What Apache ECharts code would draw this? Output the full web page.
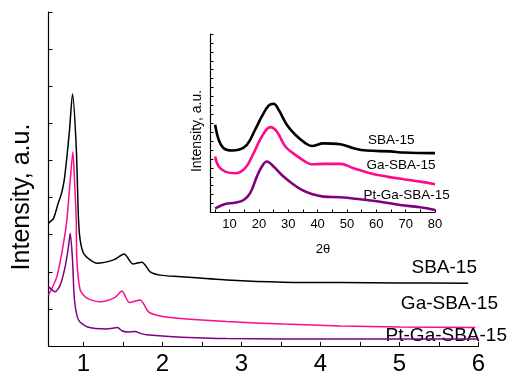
<!DOCTYPE html>
<html><head><meta charset="utf-8">
<script src="https://cdn.jsdelivr.net/npm/echarts@6/dist/echarts.min.js"></script>
<style>html,body{margin:0;padding:0;background:#fff}#c{width:512px;height:378px}</style>
</head><body><div id="c"></div>
<script>
// ---- Main plot data (small-angle XRD, 2θ in degrees) ----
const sbaX = [0.557,0.62,0.68,0.72,0.756,0.79,0.823,0.861,0.908,0.937,0.958,1.0,1.085,1.17,1.38,1.515,1.625,1.74,1.845,1.97,2.2,2.815,3.53,4.25,5.0,5.87];
const sbaY = [3.31,3.44,3.85,4.10,4.47,5.10,5.82,6.79,5.37,3.40,2.86,2.50,2.32,2.23,2.32,2.48,2.21,2.26,2.00,1.91,1.87,1.78,1.72,1.71,1.70,1.69];
const gaX = [0.557,0.663,0.747,0.79,0.832,0.866,0.886,0.908,0.916,0.958,1.043,1.21,1.40,1.486,1.582,1.718,1.823,1.97,2.2,2.815,3.53,4.25,5.0,5.96];
const gaY = [1.37,1.87,2.77,3.40,4.47,5.23,4.47,3.40,2.32,1.51,1.29,1.19,1.31,1.48,1.17,1.24,0.92,0.81,0.75,0.66,0.59,0.54,0.51,0.50];
const ptX = [0.557,0.642,0.705,0.768,0.81,0.832,0.861,0.886,0.937,1.043,1.296,1.43,1.486,1.56,1.654,1.72,1.80,2.135,2.815,4.25,6.0];
const ptY = [1.60,1.46,1.64,2.14,2.68,3.04,2.32,1.24,0.70,0.52,0.46,0.50,0.41,0.38,0.39,0.34,0.30,0.25,0.20,0.19,0.19];
const mainTickVals = [1,1.5,2,2.5,3,3.5,4,4.5,5,5.5,6];
const mainLabelVals = [1,2,3,4,5,6];

// ---- Inset data (wide-angle XRD) ----
const inSbaX = [5.1,6.3,8.0,10.8,13.1,15.9,18.7,21.0,23.3,25.0,26.7,29.5,32.4,35.8,38.0,42.0,47.7,52.2,56.7,64.7,69.2,80];
const inSbaY = [9.83,8.15,7.21,6.94,7.02,7.58,9.27,10.76,11.97,12.19,11.52,9.83,8.71,7.78,7.45,7.75,7.65,7.21,6.94,6.85,6.72,6.65];
const inGaX = [5.1,6.3,8.5,11.9,15.3,18.2,21.0,23.9,26.1,29.0,32.4,35.8,38.0,42.0,47.7,52.2,57.9,63.6,69.2,74.9,80];
const inGaY = [6.27,5.15,4.58,4.40,4.97,6.65,8.52,9.57,9.08,7.39,6.46,5.71,5.40,5.45,5.45,4.97,4.40,4.02,3.73,3.46,3.17];
const inPtX = [5.1,8.5,11.9,14.8,17.0,19.3,21.0,22.7,25.0,27.8,31.2,34.6,38.0,42.0,47.7,54.5,61.3,68.1,74.9,80];
const inPtY = [0.47,0.96,1.10,1.40,2.16,4.02,5.15,5.71,5.15,4.21,3.28,2.53,2.08,1.78,1.71,1.48,1.21,0.84,0.58,0.28];
const inTickVals = [5,10,15,20,25,30,35,40,45,50,55,60,65,70,75,80];
const inLabelVals = [10,20,30,40,50,60,70,80];

const seriesNames = ['SBA-15','Ga-SBA-15','Pt-Ga-SBA-15'];
const colors = ['#000000','#ff0a8c','#800080'];

function pairs(xs, ys){ return xs.map((x,i)=>[x, ys[i]]); }

const FONT = '"Liberation Sans", Arial, sans-serif';
const chart = echarts.init(document.getElementById('c'), null, {renderer:'canvas'});

const axisLine = {show:true, lineStyle:{color:'#000', width:1.2}};
chart.setOption({
  animation:false,
  backgroundColor:'#fff',
  grid:[
    {left:48.5, top:12, width:430, height:334},
    {left:210.5, top:34, width:224.5, height:178.5}
  ],
  xAxis:[
    {gridIndex:0, type:'value', min:0.557, max:6, axisLine:axisLine,
     axisTick:{show:true, inside:true, length:4, customValues:mainTickVals, lineStyle:{color:'#000'}},
     axisLabel:{customValues:mainLabelVals, color:'#000', fontSize:24, fontFamily:FONT, margin:6},
     splitLine:{show:false}},
    {gridIndex:1, type:'value', min:3.5, max:80, axisLine:axisLine,
     axisTick:{show:true, inside:true, length:3, customValues:inTickVals, lineStyle:{color:'#000'}},
     axisLabel:{customValues:inLabelVals, color:'#000', fontSize:13, fontFamily:FONT, margin:5},
     splitLine:{show:false}}
  ],
  yAxis:[
    {gridIndex:0, type:'value', min:0, max:9, interval:1, axisLine:axisLine,
     axisTick:{show:true, inside:true, length:4, lineStyle:{color:'#000'}},
     axisLabel:{show:false}, splitLine:{show:false}},
    {gridIndex:1, type:'value', min:0, max:20, interval:1, axisLine:axisLine,
     axisTick:{show:true, inside:true, length:3, lineStyle:{color:'#000'}},
     axisLabel:{show:false}, splitLine:{show:false}}
  ],
  series:[
    {type:'line', name:seriesNames[0], xAxisIndex:0, yAxisIndex:0, data:pairs(sbaX,sbaY), showSymbol:false, smooth:0.25, lineStyle:{color:colors[0], width:1.5}},
    {type:'line', name:seriesNames[1], xAxisIndex:0, yAxisIndex:0, data:pairs(gaX,gaY), showSymbol:false, smooth:0.25, lineStyle:{color:colors[1], width:1.5}},
    {type:'line', name:seriesNames[2], xAxisIndex:0, yAxisIndex:0, data:pairs(ptX,ptY), showSymbol:false, smooth:0.25, lineStyle:{color:colors[2], width:1.5}},
    {type:'line', name:seriesNames[0], xAxisIndex:1, yAxisIndex:1, data:pairs(inSbaX,inSbaY), showSymbol:false, smooth:0.4, lineStyle:{color:colors[0], width:2.6}},
    {type:'line', name:seriesNames[1], xAxisIndex:1, yAxisIndex:1, data:pairs(inGaX,inGaY), showSymbol:false, smooth:0.4, lineStyle:{color:colors[1], width:2.6}},
    {type:'line', name:seriesNames[2], xAxisIndex:1, yAxisIndex:1, data:pairs(inPtX,inPtY), showSymbol:false, smooth:0.4, lineStyle:{color:colors[2], width:2.6}}
  ],
  graphic:[
    {type:'text', x:22, y:197, rotation:Math.PI/2, style:{text:'Intensity, a.u.', font:'25px '+FONT, fill:'#000', align:'center', verticalAlign:'middle'}},
    {type:'text', x:197, y:131, rotation:Math.PI/2, style:{text:'Intensity, a.u.', font:'14px '+FONT, fill:'#000', align:'center', verticalAlign:'middle'}},
    {type:'text', x:323, y:249, style:{text:'2θ', font:'13px '+FONT, fill:'#000', align:'center', verticalAlign:'middle'}},
    {type:'text', x:477, y:268, style:{text:seriesNames[0], font:'19px '+FONT, fill:'#000', align:'right', verticalAlign:'middle'}},
    {type:'text', x:498, y:304, style:{text:seriesNames[1], font:'19px '+FONT, fill:'#000', align:'right', verticalAlign:'middle'}},
    {type:'text', x:507, y:336, style:{text:seriesNames[2], font:'19px '+FONT, fill:'#000', align:'right', verticalAlign:'middle'}},
    {type:'text', x:368, y:140, style:{text:seriesNames[0], font:'13.5px '+FONT, fill:'#000', align:'left', verticalAlign:'middle'}},
    {type:'text', x:366.5, y:165, style:{text:seriesNames[1], font:'13.5px '+FONT, fill:'#000', align:'left', verticalAlign:'middle'}},
    {type:'text', x:363.5, y:195, style:{text:seriesNames[2], font:'13.5px '+FONT, fill:'#000', align:'left', verticalAlign:'middle'}}
  ]
});
</script></body></html>
